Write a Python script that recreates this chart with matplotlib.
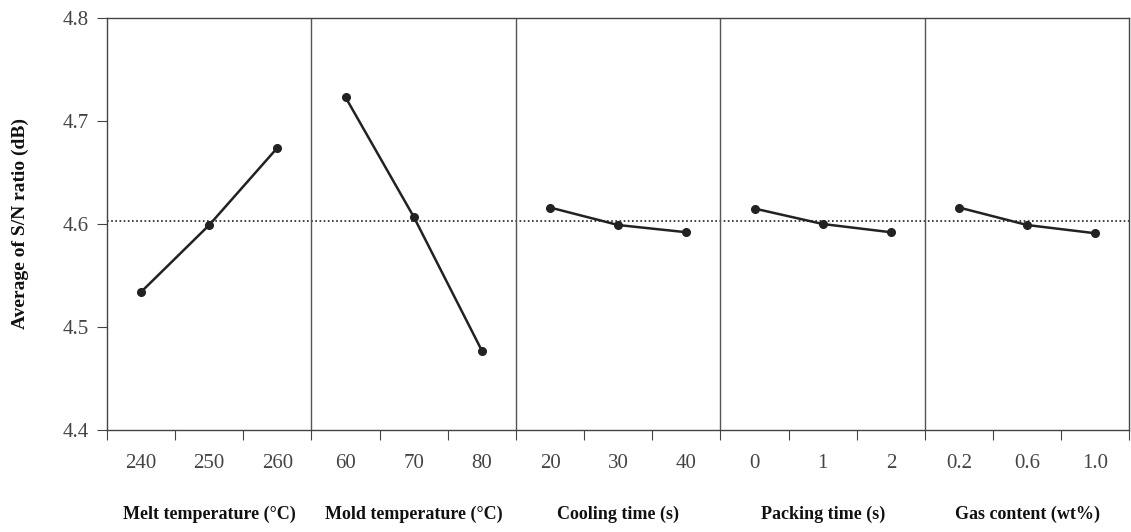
import matplotlib.pyplot as plt
import numpy as np

plt.rcParams['font.family'] = ['Liberation Serif', 'DejaVu Serif']

# 各因素及其水平
factors = ["Melt temperature (°C)", "Mold temperature (°C)", "Cooling time (s)",
           "Packing time (s)", "Gas content (wt%)"]
levels = [["240", "250", "260"], ["60", "70", "80"], ["20", "30", "40"],
          ["0", "1", "2"], ["0.2", "0.6", "1.0"]]
# 各水平的平均信噪比
melt = [4.534, 4.599, 4.674]
mold = [4.723, 4.607, 4.477]
cooling = [4.616, 4.599, 4.592]
packing = [4.615, 4.600, 4.592]
gas = [4.616, 4.599, 4.591]
mean_sn = 4.603

series = [melt, mold, cooling, packing, gas]

fig = plt.figure(figsize=(11.31, 5.32), dpi=100)
ax = fig.add_axes([0.0946, 0.1917, 0.904, 0.7745])

for i, vals in enumerate(series):
    x = np.arange(3) + 3 * i + 0.5
    ax.plot(x, vals, color="#222222", lw=1.8, marker="o", ms=5.5)

# 总平均值虚线
ax.axhline(mean_sn, color="#222222", lw=1.2, ls=(0, (1, 1.5)))

# 分隔线
for b in range(3, 15, 3):
    ax.axvline(b, color="#555555", lw=1)

ax.set_xlim(0, 15)
ax.set_ylim(4.4, 4.8)
ax.set_yticks([4.4, 4.5, 4.6, 4.7, 4.8])
ax.set_yticklabels(["4.4", "4.5", "4.6", "4.7", "4.8"])

ax.set_xticks(np.arange(0, 16))
ax.set_xticklabels([])
ax.set_xticks(np.arange(15) + 0.5, minor=True)
ax.set_xticklabels([l for lv in levels for l in lv], minor=True)
ax.tick_params(axis="x", which="major", direction="out", length=7, color="#444444")
ax.tick_params(axis="x", which="minor", length=0, pad=17, labelsize=15, labelcolor="#444444")
ax.tick_params(axis="y", direction="out", length=7, color="#444444", labelsize=15,
               labelcolor="#444444", pad=6)

for s in ax.spines.values():
    s.set_color("#444444")
    s.set_linewidth(1)

for i, name in enumerate(factors):
    ax.text(3 * i + 1.5, -0.205, name, transform=ax.get_xaxis_transform(),
            ha="center", va="center", fontsize=13, fontweight="bold", color="#111111")

fig.text(0.018, 0.1917 + 0.7745 * 0.5, "Average of S/N ratio (dB)", rotation=90,
         ha="center", va="center", fontsize=14, fontweight="bold", color="#111111")

fig.savefig("out.png", dpi=100)
